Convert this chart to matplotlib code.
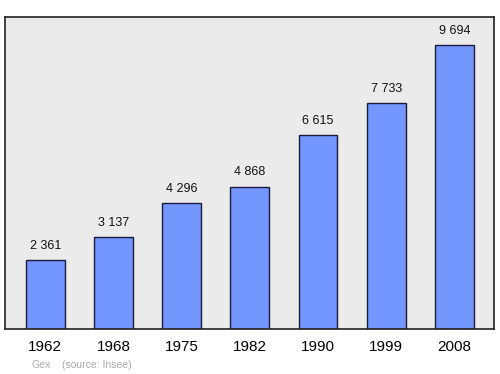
import matplotlib
matplotlib.use("Agg")
import matplotlib.pyplot as plt

plt.rcParams['font.family'] = ['Liberation Sans', 'DejaVu Sans']

years = ["1962", "1968", "1975", "1982", "1990", "1999", "2008"]
population = [2361, 3137, 4296, 4868, 6615, 7733, 9694]
value_labels = ["2 361", "3 137", "4 296", "4 868", "6 615", "7 733", "9 694"]

fig = plt.figure(figsize=(5, 3.74), dpi=100)
ax = fig.add_axes([0.01, 0.1203, 0.978, 0.8342])
ax.set_facecolor("#ebebeb")
x = list(range(len(years)))
ax.bar(x, population, width=0.57, color="#7396ff", edgecolor="#1a1a3a", linewidth=1.0, zorder=2)
ymax = max(population) * 1.1
ax.set_ylim(0, ymax)
ax.set_xlim(-0.59, 6.58)
for xi, v, lab in zip(x, population, value_labels):
    ax.text(xi, v + ymax * 0.026, lab, ha="center", va="bottom", fontsize=9, color="#111111")
ax.set_xticks(x)
ax.set_xticklabels(years, fontsize=11)
ax.tick_params(axis="x", length=0, pad=8)
ax.set_yticks([])
for s in ax.spines.values():
    s.set_color("#222222")
    s.set_linewidth(1.2)
fig.text(0.062, 0.012, "Gex", fontsize=7.5, color="#aaaaaa", ha="left", va="bottom")
fig.text(0.124, 0.012, "(source: Insee)", fontsize=7.5, color="#aaaaaa", ha="left", va="bottom")
fig.savefig("out.png", dpi=100)
